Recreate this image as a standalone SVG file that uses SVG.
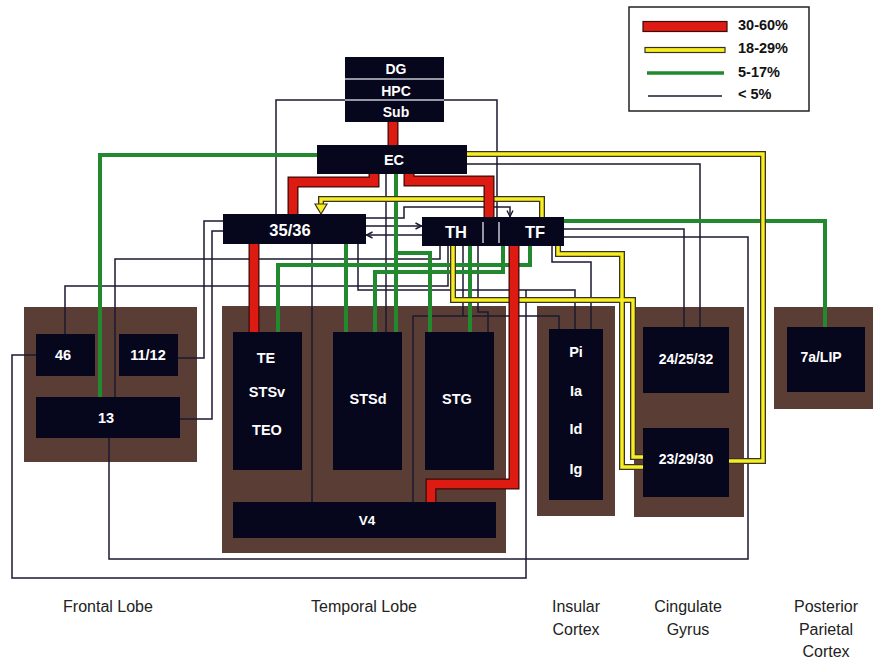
<svg xmlns="http://www.w3.org/2000/svg" width="873" height="661" viewBox="0 0 873 661">
<style>
.bg{fill:#5a3d35}
.n{fill:#06061c}
.t{fill:#fff;font-family:"Liberation Sans",Arial,sans-serif;font-size:14.5px;font-weight:bold;text-anchor:middle;dominant-baseline:central}
.ro{fill:none;stroke:#3b0b08;stroke-width:11}
.r{fill:none;stroke:#de1b12;stroke-width:8.5}
.yo{fill:none;stroke:#3a3322;stroke-width:6}
.y{fill:none;stroke:#f6ee22;stroke-width:3.4}
.g{fill:none;stroke:#22892f;stroke-width:4}
.k{fill:none;stroke:#1b1830;stroke-width:1.5}
.lab{fill:#222;font-family:"Liberation Sans",Arial,sans-serif;font-size:16px;text-anchor:middle}
.lg{fill:#111;font-family:"Liberation Sans",Arial,sans-serif;font-size:14.5px;font-weight:bold;dominant-baseline:central}
.div{stroke:#c8c8d0;stroke-width:1.5}
</style>
<defs>
<marker id="ah" viewBox="0 0 8 8" refX="7.5" refY="4" markerWidth="8" markerHeight="8" markerUnits="userSpaceOnUse" orient="auto">
<path d="M1,1 L7,4 L1,7" fill="none" stroke="#1b1830" stroke-width="1.4"/>
</marker>
<path id="r1" d="M393,122 V145"/>
<path id="r2" d="M374,174 V182 H293 V214"/>
<path id="r3" d="M409,174 V181 H489 V217"/>
<path id="r4" d="M254,244 V332"/>
<path id="r5" d="M514,246 V484 H431 V502"/>
<path id="y1" d="M467,154 H763 V461 H729"/>
<path id="y2" d="M542,217 V199 H321 V205"/>
<path id="y3" d="M453,246 V300 H633 V457 H643"/>
<path id="y4" d="M558,246 V254 H622 V467 H643"/>
</defs>
<rect width="873" height="661" fill="#fff"/>

<g id="regions">
<rect class="bg" x="24" y="307" width="173" height="155"/>
<rect class="bg" x="222" y="306" width="284" height="247"/>
<rect class="bg" x="537" y="306" width="78" height="210"/>
<rect class="bg" x="634" y="307" width="110" height="210"/>
<rect class="bg" x="774" y="307" width="99" height="102"/>
</g>

<g id="connectors">
<g id="lines-lt5">
<path class="k" d="M345,100 H276 V214"/>
<path class="k" d="M444,100 H497 V217"/>
<path class="k" d="M467,164 H700 V327"/>
<path class="k" d="M223,221 H204 V358 H178"/>
<path class="k" d="M223,231 H212 V419 H180"/>
<path class="k" d="M440,246 V259 H115 V397"/>
<path class="k" d="M448,246 V286 H65 V334"/>
<path class="k" d="M312,244 V502"/>
<path class="k" d="M358,244 V290 H575 V329"/>
<path class="k" d="M36,355 H12 V578 H526 V290"/>
<path class="k" d="M109,438 V559 H748 V237 H564"/>
<path class="k" d="M564,229 H684 V327"/>
<path class="k" d="M552,246 V262 H591 V329"/>
<path class="k" d="M413,502 V316 H559 V329"/>
<path class="k" d="M463,246 V316"/>
<path class="k" d="M478,246 V312 H488 V332"/>
<path class="k" d="M386,174 V332"/>
<path class="k" d="M366,226 H422" marker-end="url(#ah)"/>
<path class="k" d="M422,235 H366" marker-end="url(#ah)"/>
<path class="k" d="M366,218 H404 V207 H510 V217" marker-end="url(#ah)"/>
</g>
<g id="lines-5-17">
<path class="g" d="M317,155 H100 V397"/>
<path class="g" d="M564,221 H825 V327"/>
<path class="g" d="M346,244 V332"/>
<path class="g" d="M530,246 V265 H278 V332"/>
<path class="g" d="M503,246 V272 H375 V332"/>
<path class="g" d="M396,174 V253 H430 V332"/>
<path class="g" d="M396,253 V332"/>
<path class="g" d="M470,246 V332"/>
</g>
<g id="lines-18-29">
<use href="#y1" class="yo"/><use href="#y2" class="yo"/><use href="#y3" class="yo"/><use href="#y4" class="yo"/>
<use href="#y1" class="y"/><use href="#y2" class="y"/><use href="#y3" class="y"/><use href="#y4" class="y"/>
<polygon points="315,204 327,204 321,214" fill="#f6ee22" stroke="#3a3322" stroke-width="1.2"/>
</g>
<g id="lines-30-60">
<use href="#r1" class="ro"/><use href="#r2" class="ro"/><use href="#r3" class="ro"/><use href="#r4" class="ro"/><use href="#r5" class="ro"/>
<use href="#r1" class="r"/><use href="#r2" class="r"/><use href="#r3" class="r"/><use href="#r4" class="r"/><use href="#r5" class="r"/>
</g>
</g>

<g id="n-dg">
<rect class="n" x="345" y="57" width="99" height="65"/>
<line class="div" x1="345" y1="79" x2="444" y2="79"/>
<line class="div" x1="345" y1="100" x2="444" y2="100"/>
<text class="t" x="396" y="69" style="font-size:14px">DG</text>
<text class="t" x="396" y="91" style="font-size:14px">HPC</text>
<text class="t" x="396" y="112" style="font-size:14px">Sub</text>
</g>
<g id="n-ec">
<rect class="n" x="317" y="145" width="150" height="29"/>
<text class="t" x="394" y="160">EC</text>
</g>
<g id="n-3536">
<rect class="n" x="223" y="214" width="143" height="30"/>
<text class="t" x="290" y="230" style="font-size:16.5px">35/36</text>
</g>
<g id="n-thtf">
<rect class="n" x="422" y="217" width="142" height="29"/>
<line class="div" x1="483" y1="222" x2="483" y2="243"/>
<line class="div" x1="499" y1="222" x2="499" y2="243"/>
<text class="t" x="456" y="232" style="font-size:16.5px">TH</text>
<text class="t" x="535" y="232" style="font-size:16.5px">TF</text>
</g>
<g id="n-46">
<rect class="n" x="36" y="334" width="59" height="42"/>
<text class="t" x="63" y="355">46</text>
</g>
<g id="n-1112">
<rect class="n" x="119" y="334" width="59" height="42"/>
<text class="t" x="148" y="355">11/12</text>
</g>
<g id="n-13">
<rect class="n" x="36" y="397" width="144" height="41"/>
<text class="t" x="106" y="418">13</text>
</g>
<g id="n-te">
<rect class="n" x="233" y="332" width="69" height="138"/>
<text class="t" x="266" y="358">TE</text>
<text class="t" x="267" y="392">STSv</text>
<text class="t" x="267" y="430">TEO</text>
</g>
<g id="n-stsd">
<rect class="n" x="333" y="332" width="69" height="138"/>
<text class="t" x="368" y="399">STSd</text>
</g>
<g id="n-stg">
<rect class="n" x="425" y="332" width="69" height="138"/>
<text class="t" x="457" y="399">STG</text>
</g>
<g id="n-v4">
<rect class="n" x="233" y="502" width="263" height="36"/>
<text class="t" x="367" y="520" style="font-size:13.5px">V4</text>
</g>
<g id="n-pi">
<rect class="n" x="549" y="329" width="54" height="171"/>
<text class="t" x="576" y="352">Pi</text>
<text class="t" x="576" y="391">Ia</text>
<text class="t" x="576" y="429">Id</text>
<text class="t" x="576" y="469">Ig</text>
</g>
<g id="n-242532">
<rect class="n" x="643" y="327" width="86" height="66"/>
<text class="t" x="686" y="359" style="font-size:14px">24/25/32</text>
</g>
<g id="n-232930">
<rect class="n" x="643" y="428" width="86" height="69"/>
<text class="t" x="686" y="459" style="font-size:14px">23/29/30</text>
</g>
<g id="n-7alip">
<rect class="n" x="787" y="327" width="78" height="65"/>
<text class="t" x="821" y="357" style="font-size:14px">7a/LIP</text>
</g>

<g id="legend">
<rect x="629" y="7" width="180" height="104" fill="#fff" stroke="#222" stroke-width="1.5"/>
<rect x="643" y="21.5" width="84" height="10" fill="#de1b12" stroke="#3b0b08" stroke-width="1.2"/>
<rect x="645" y="47.5" width="80" height="5" fill="#f6ee22" stroke="#3a3322" stroke-width="1.2"/>
<line x1="647" y1="73" x2="724" y2="73" stroke="#22892f" stroke-width="3.5"/>
<line x1="648" y1="96" x2="722" y2="96" stroke="#1b1830" stroke-width="1.5"/>
<text class="lg" x="738" y="25">30-60%</text>
<text class="lg" x="738" y="48">18-29%</text>
<text class="lg" x="738" y="72">5-17%</text>
<text class="lg" x="738" y="94">&lt; 5%</text>
</g>

<g id="labels">
<text class="lab" x="108" y="612">Frontal Lobe</text>
<text class="lab" x="364" y="612">Temporal Lobe</text>
<text class="lab" x="576" y="612">Insular</text>
<text class="lab" x="576" y="635">Cortex</text>
<text class="lab" x="688" y="612">Cingulate</text>
<text class="lab" x="688" y="635">Gyrus</text>
<text class="lab" x="826" y="612">Posterior</text>
<text class="lab" x="826" y="635">Parietal</text>
<text class="lab" x="826" y="657">Cortex</text>
</g>
</svg>
